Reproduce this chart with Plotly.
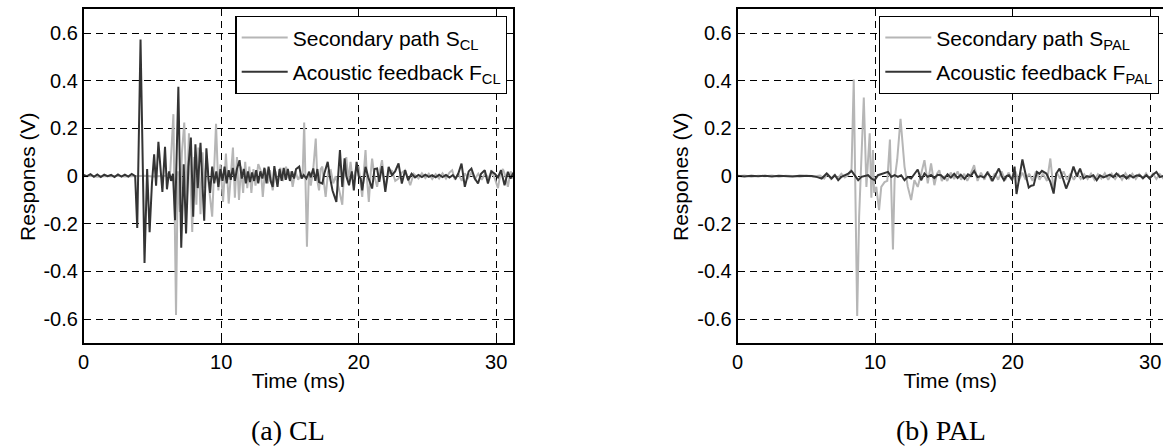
import plotly.graph_objects as go

# ---------------- data ----------------
# (a) CL : secondary path S_CL (light gray)
t_s_cl = [0, 0.5, 1.0, 1.5, 2.0, 2.5, 3.0, 3.5, 4.0, 4.5, 5.0, 5.5, 6.0, 6.3, 6.53, 6.72, 6.85, 7.0, 7.15, 7.32,
          7.5, 7.66, 7.9, 8.05, 8.2, 8.35, 8.5, 8.65, 8.8, 8.95, 9.1, 9.35, 9.63, 9.8, 9.95, 10.14, 10.35, 10.55,
          10.7, 10.86, 11.0, 11.15, 11.3, 11.45, 11.6, 11.75, 11.9, 12.05, 12.2, 12.35, 12.5, 12.7, 12.9, 13.03,
          13.2, 13.4, 13.55, 13.75, 13.95, 14.1, 14.3, 14.5, 14.72, 14.9, 15.05, 15.2, 15.4, 15.6, 15.8, 15.92,
          16.04, 16.14, 16.24, 16.38, 16.52, 16.7, 16.88, 17.0, 17.12, 17.24, 17.36, 17.48, 17.6, 17.78, 17.97,
          18.15, 18.33, 18.55, 18.81, 18.95, 19.1, 19.25, 19.41, 19.53, 19.65, 19.83, 20.01, 20.14, 20.26, 20.38,
          20.5, 20.62, 20.74, 20.86, 20.98, 21.15, 21.34, 21.5, 21.7, 21.82, 21.94, 22.18, 22.42, 22.66, 22.9,
          23.14, 23.38, 23.55, 23.75, 24.0, 24.35, 24.6, 24.85, 25.1, 25.35, 25.6, 25.85, 26.1, 26.35, 26.6,
          26.8, 27.0, 27.24, 27.5, 27.72, 27.95, 28.2, 28.45, 28.7, 28.95, 29.2, 29.45, 29.65, 29.9, 30.13,
          30.3, 30.49, 30.67, 30.85, 31.05, 31.25]
v_s_cl = [0.0, 0.002, -0.002, 0.001, 0.0, 0.002, -0.001, 0.001, 0.0, 0.002, -0.001, 0.001, 0.002, 0.02, 0.26,
          -0.583, 0.02, -0.15, 0.1, 0.225, -0.12, 0.18, -0.234, 0.08, -0.12, 0.12, -0.16, 0.1, -0.05, 0.08,
          -0.04, -0.17, 0.22, -0.06, 0.05, -0.108, 0.095, -0.115, 0.02, 0.12, -0.09, 0.08, -0.1, 0.04, -0.07,
          0.06, -0.05, 0.04, -0.07, 0.03, -0.04, 0.05, 0.02, -0.087, 0.03, -0.03, 0.025, -0.06, 0.02, -0.03,
          0.035, -0.02, 0.04, -0.01, 0.02, -0.045, 0.02, -0.015, 0.01, -0.01, 0.225, -0.05, -0.296, 0.02,
          -0.04, 0.03, 0.158, -0.02, -0.06, 0.03, 0.04, -0.03, -0.087, 0.02, 0.025, -0.03, 0.0, -0.05, -0.12,
          0.02, 0.08, -0.02, 0.06, 0.0, -0.003, 0.03, 0.04, -0.03, -0.087, 0.02, 0.109, -0.02, -0.108, 0.0,
          0.074, 0.0, -0.045, 0.01, 0.067, 0.0, -0.045, 0.01, 0.025, -0.02, -0.01, 0.015, 0.025, -0.005,
          -0.038, 0.01, -0.01, 0.012, -0.008, 0.01, -0.012, 0.008, -0.01, 0.012, -0.01, 0.015, 0.025, -0.015,
          0.01, -0.02, 0.012, -0.008, 0.015, -0.012, 0.01, -0.015, 0.012, -0.01, 0.025, -0.01, -0.05, 0.01,
          0.03, 0.0, -0.045, 0.02, -0.01]

# (a) CL : acoustic feedback F_CL (dark gray)
t_f_cl = [0.0, 0.25, 0.5, 0.75, 1.0, 1.25, 1.5, 1.75, 2.0, 2.25, 2.5, 2.75, 3.0, 3.25, 3.5, 3.75, 3.9, 4.14,
          4.43, 4.62, 4.8, 4.97, 5.13, 5.27, 5.44, 5.58, 5.73, 5.92, 6.06, 6.22, 6.36, 6.5, 6.65, 6.89, 7.1,
          7.28, 7.45, 7.62, 7.8, 7.97, 8.13, 8.3, 8.5, 8.77, 8.93, 9.08, 9.2, 9.35, 9.5, 9.65, 9.8, 9.95, 10.1,
          10.25, 10.4, 10.55, 10.7, 10.85, 11.0, 11.15, 11.34, 11.5, 11.65, 11.8, 11.95, 12.1, 12.25, 12.4,
          12.55, 12.7, 12.85, 13.0, 13.15, 13.3, 13.45, 13.6, 13.75, 13.87, 14.0, 14.1, 14.25, 14.4, 14.55,
          14.7, 14.85, 15.0, 15.15, 15.3, 15.45, 15.68, 15.85, 16.0, 16.2, 16.4, 16.52, 16.7, 16.85, 17.0,
          17.12, 17.36, 17.5, 17.75, 17.9, 18.1, 18.38, 18.64, 18.81, 18.98, 19.1, 19.3, 19.5, 19.65, 19.85,
          20.0, 20.15, 20.26, 20.5, 20.7, 20.98, 21.15, 21.34, 21.5, 21.7, 21.94, 22.18, 22.42, 22.65, 22.9,
          23.14, 23.38, 23.6, 23.85, 24.1, 24.35, 24.6, 24.85, 25.1, 25.35, 25.6, 25.85, 26.1, 26.35, 26.6,
          26.85, 27.05, 27.24, 27.48, 27.72, 28.0, 28.2, 28.45, 28.68, 28.9, 29.17, 29.4, 29.65, 29.9, 30.13,
          30.35, 30.61, 30.85, 31.05, 31.25]
v_f_cl = [0.005, 0.0, 0.008, -0.003, 0.007, -0.004, 0.006, 0.0, 0.005, -0.004, 0.007, -0.002, 0.006, -0.002,
          0.009, 0.0, -0.217, 0.573, -0.364, 0.03, -0.235, -0.03, 0.092, -0.04, 0.144, 0.02, -0.066, 0.123,
          -0.055, 0.02, -0.02, 0.01, -0.185, 0.375, -0.30, 0.05, -0.24, 0.04, 0.162, -0.17, 0.134, -0.05,
          0.14, -0.187, 0.117, -0.01, -0.07, 0.04, -0.03, 0.02, -0.045, 0.03, -0.02, 0.04, -0.03, 0.025,
          -0.015, 0.035, -0.02, 0.03, 0.067, -0.01, 0.03, -0.03, 0.02, -0.025, 0.015, -0.02, 0.025, -0.03,
          0.02, -0.01, 0.035, -0.03, 0.04, -0.02, -0.045, 0.042, -0.01, -0.045, 0.03, -0.02, 0.035, -0.015,
          0.03, -0.02, 0.02, -0.01, 0.03, 0.04, -0.01, 0.005, -0.01, 0.018, -0.005, 0.032, -0.02, 0.03,
          -0.025, -0.031, 0.01, 0.06, 0.0, -0.06, -0.108, 0.109, -0.045, 0.075, 0.0, -0.038, 0.02, -0.06,
          0.06, 0.0, -0.01, -0.06, 0.039, -0.005, -0.052, 0.03, 0.032, -0.024, 0.042, -0.066, 0.039, 0.004,
          0.02, 0.053, -0.031, 0.025, -0.017, 0.01, -0.005, 0.005, -0.004, 0.006, -0.003, 0.004, -0.005,
          0.006, -0.004, 0.005, -0.006, 0.004, -0.01, 0.01, 0.053, -0.045, 0.02, 0.032, -0.01, -0.031, 0.01,
          0.025, -0.031, 0.02, 0.01, -0.005, 0.025, -0.038, 0.018, -0.01, 0.015]

# (b) PAL : secondary path S_PAL (light gray)
t_s_pal = [0, 0.5, 1.0, 1.5, 2.0, 2.5, 3.0, 3.5, 4.0, 4.5, 5.0, 5.5, 6.0, 6.3, 6.55, 6.8, 7.05, 7.3, 7.55, 7.8,
           8.05, 8.29, 8.45, 8.70, 8.84, 9.18, 9.37, 9.61, 9.73, 9.85, 9.93, 10.09, 10.29, 10.45, 10.69, 10.89,
           11.08, 11.3, 11.42, 11.61, 11.85, 12.14, 12.38, 12.62, 12.86, 13.1, 13.35, 13.59, 13.83, 14.07,
           14.31, 14.5, 14.67, 14.85, 15.03, 15.25, 15.5, 15.75, 16.0, 16.25, 16.48, 16.7, 16.95, 17.2, 17.45,
           17.7, 17.95, 18.2, 18.45, 18.7, 18.95, 19.2, 19.45, 19.7, 19.95, 20.2, 20.45, 20.7, 20.95, 21.2,
           21.45, 21.7, 21.95, 22.2, 22.5, 22.74, 22.98, 23.2, 23.45, 23.7, 23.95, 24.2, 24.45, 24.7, 24.95,
           25.2, 25.45, 25.7, 25.95, 26.2, 26.45, 26.7, 26.95, 27.2, 27.45, 27.7, 27.95, 28.2, 28.45, 28.7,
           28.95, 29.2, 29.45, 29.7, 29.95, 30.2, 30.45, 30.7, 30.95, 31.25]
v_s_pal = [0.0, 0.003, -0.002, 0.002, 0.0, 0.003, -0.002, 0.002, 0.001, -0.002, 0.002, -0.001, 0.003, -0.01,
           0.008, -0.012, 0.005, -0.008, 0.01, -0.005, 0.005, 0.03, 0.405, -0.587, -0.17, 0.33, -0.045, 0.18,
           -0.09, 0.11, -0.07, -0.045, -0.143, -0.045, -0.025, -0.02, 0.154, -0.308, -0.015, 0.07, 0.24, 0.04,
           -0.045, -0.1, -0.017, -0.045, 0.01, 0.067, -0.03, 0.053, -0.038, 0.01, 0.025, -0.02, 0.0, -0.02,
           0.015, -0.012, 0.02, -0.015, 0.01, -0.02, 0.01, 0.046, -0.02, 0.015, -0.015, 0.02, -0.02, 0.012,
           -0.015, 0.02, -0.018, 0.015, -0.01, 0.02, -0.02, 0.015, -0.015, 0.01, -0.02, 0.02, -0.015, 0.01,
           -0.02, 0.074, -0.06, 0.015, -0.01, 0.02, -0.015, 0.01, -0.015, 0.01, -0.012, 0.008, -0.012, 0.01,
           -0.015, 0.008, -0.01, 0.012, -0.015, 0.01, -0.012, 0.008, -0.015, 0.012, -0.01, 0.01, -0.012,
           0.008, -0.01, 0.012, -0.01, 0.01, -0.012, 0.008, -0.01, 0.005]

# (b) PAL : acoustic feedback F_PAL (dark gray)
t_f_pal = [0.0, 0.5, 1.0, 1.5, 2.0, 2.5, 3.0, 3.5, 4.0, 4.5, 5.0, 5.4, 5.8, 6.12, 6.48, 6.84, 7.08, 7.32, 7.56,
           7.80, 8.05, 8.29, 8.53, 8.77, 9.01, 9.25, 9.49, 9.73, 9.97, 10.21, 10.45, 10.69, 10.94, 11.18,
           11.42, 11.66, 11.90, 12.14, 12.38, 12.62, 12.86, 13.10, 13.35, 13.59, 13.83, 14.07, 14.31, 14.55,
           14.79, 15.03, 15.27, 15.51, 15.75, 16.0, 16.23, 16.5, 16.75, 16.96, 17.2, 17.45, 17.68, 17.92,
           18.16, 18.35, 18.53, 18.75, 19.0, 19.2, 19.37, 19.55, 19.73, 19.97, 20.14, 20.28, 20.47, 20.71,
           20.93, 21.17, 21.35, 21.53, 21.77, 21.95, 22.13, 22.45, 22.74, 22.98, 23.17, 23.41, 23.7, 23.89,
           24.13, 24.42, 24.67, 24.9, 25.15, 25.4, 25.63, 25.87, 26.11, 26.35, 26.6, 26.83, 27.07, 27.31,
           27.55, 27.8, 28.04, 28.28, 28.52, 28.76, 29.0, 29.24, 29.48, 29.72, 29.96, 30.2, 30.45, 30.7,
           30.9, 31.25]
v_f_pal = [0.002, -0.001, 0.002, 0.0, 0.002, -0.001, 0.002, 0.001, -0.001, 0.002, 0.0, 0.001, -0.004, -0.01,
           0.011, -0.01, 0.004, -0.017, -0.003, 0.004, 0.011, 0.022, 0.004, -0.017, -0.003, 0.0, 0.004,
           -0.01, -0.017, 0.004, 0.008, 0.014, 0.018, -0.003, 0.004, -0.003, 0.004, -0.017, -0.003, -0.01,
           0.011, 0.028, -0.017, 0.011, -0.003, 0.005, -0.008, 0.006, 0.004, -0.01, 0.008, -0.006, 0.01,
           -0.008, 0.006, -0.012, 0.008, 0.0, 0.022, -0.004, 0.0, -0.006, 0.014, 0.0, -0.02, 0.005, 0.032,
           0.0, -0.017, 0.0, 0.004, -0.017, 0.04, -0.075, -0.003, 0.07, 0.011, -0.048, -0.04, -0.038, 0.018,
           0.01, 0.022, 0.011, -0.024, -0.073, 0.011, 0.032, -0.017, -0.052, -0.017, 0.04, 0.0, 0.032, -0.01,
           0.0, -0.003, 0.004, -0.017, 0.003, -0.005, 0.0, 0.006, -0.004, 0.011, -0.003, 0.004, -0.01, 0.004,
           -0.006, 0.003, 0.004, -0.008, 0.004, -0.01, 0.006, 0.018, -0.004, 0.0, 0.003]

x_ticks = [0, 10, 20, 30]
y_ticks = [-0.6, -0.4, -0.2, 0, 0.2, 0.4, 0.6]
y_ticktext = ["-0.6", "-0.4", "-0.2", "0", "0.2", "0.4", "0.6"]
captions = ["(a) CL", "(b) PAL"]
y_title = "Respones (V)"
x_title = "Time (ms)"

# ---------------- styling ----------------
W, H = 1163, 448
FONT = "Liberation Sans, Arial, sans-serif"
SERIF = "Liberation Serif, Times New Roman, serif"
LIGHT = "rgb(182,182,182)"
DARK = "rgb(52,52,52)"

fig = go.Figure()
fig.add_trace(go.Scatter(x=t_s_cl, y=v_s_cl, mode="lines", line=dict(color=LIGHT, width=2),
                         name="Secondary path S<sub>CL</sub>", legendgroup="a1",
                         xaxis="x", yaxis="y", legend="legend"))
fig.add_trace(go.Scatter(x=t_f_cl, y=v_f_cl, mode="lines", line=dict(color=DARK, width=2),
                         name="Acoustic feedback F<sub>CL</sub>", legendgroup="a2",
                         xaxis="x", yaxis="y", legend="legend"))
fig.add_trace(go.Scatter(x=t_s_pal, y=v_s_pal, mode="lines", line=dict(color=LIGHT, width=2),
                         name="Secondary path S<sub>PAL</sub>", legendgroup="b1",
                         xaxis="x2", yaxis="y2", legend="legend2"))
fig.add_trace(go.Scatter(x=t_f_pal, y=v_f_pal, mode="lines", line=dict(color=DARK, width=2),
                         name="Acoustic feedback F<sub>PAL</sub>", legendgroup="b2",
                         xaxis="x2", yaxis="y2", legend="legend2"))

ydom = [1 - 343 / H, 1 - 9.3 / H]
xdom1 = [78 / W, 510 / W]
xdom2 = [735.3 / W, 1.0]

common_x = dict(tickvals=x_ticks, tickfont=dict(family=FONT, size=20, color="black"),
                showgrid=True, gridcolor="black", gridwidth=1, griddash="7px,5px",
                zeroline=False, showline=True, linecolor="black", linewidth=1.5,
                ticks="inside", ticklen=5, tickcolor="black",
                title=dict(text=x_title, font=dict(family=FONT, size=21, color="black"), standoff=2))
common_y = dict(tickvals=y_ticks, ticktext=y_ticktext, range=[-0.7, 0.7],
                tickfont=dict(family=FONT, size=20, color="black"),
                showgrid=True, gridcolor="black", gridwidth=1, griddash="7px,5px",
                zeroline=False, showline=True, linecolor="black", linewidth=1.5,
                ticks="inside", ticklen=5, tickcolor="black")

legend_common = dict(bgcolor="white", bordercolor="black", borderwidth=1.3,
                     font=dict(family=FONT, size=21, color="black"),
                     xanchor="right", yanchor="top", y=1 - 16 / H, itemwidth=46,
                     tracegroupgap=4)

ycen = 1 - 177 / H
fig.update_layout(
    width=W, height=H, margin=dict(l=0, r=0, t=0, b=0),
    paper_bgcolor="white", plot_bgcolor="white",
    font=dict(family=FONT, color="black"),
    xaxis=dict(domain=xdom1, range=[0, 31.25], anchor="y", mirror="ticks", **common_x),
    yaxis=dict(domain=ydom, anchor="x", mirror="ticks", **common_y),
    xaxis2=dict(domain=xdom2, range=[0, 30.93], anchor="y2", mirror="ticks", **common_x),
    yaxis2=dict(domain=ydom, anchor="x2", mirror=False, **common_y),
    legend=dict(x=504 / W, **legend_common),
    legend2=dict(x=1159 / W, **legend_common),
    annotations=[
        dict(text=y_title, x=21 / W, y=ycen, xref="paper", yref="paper", textangle=-90,
             xanchor="center", yanchor="middle", showarrow=False,
             font=dict(family=FONT, size=21, color="black")),
        dict(text=y_title, x=677.5 / W, y=ycen, xref="paper", yref="paper", textangle=-90,
             xanchor="center", yanchor="middle", showarrow=False,
             font=dict(family=FONT, size=21, color="black")),
        dict(text=captions[0], x=283 / W, y=0, xref="paper", yref="paper",
             xanchor="center", yanchor="bottom", showarrow=False,
             font=dict(family=SERIF, size=28, color="black")),
        dict(text=captions[1], x=939.4 / W, y=0, xref="paper", yref="paper",
             xanchor="center", yanchor="bottom", showarrow=False,
             font=dict(family=SERIF, size=28, color="black")),
    ],
)

fig.write_html("out.html")
